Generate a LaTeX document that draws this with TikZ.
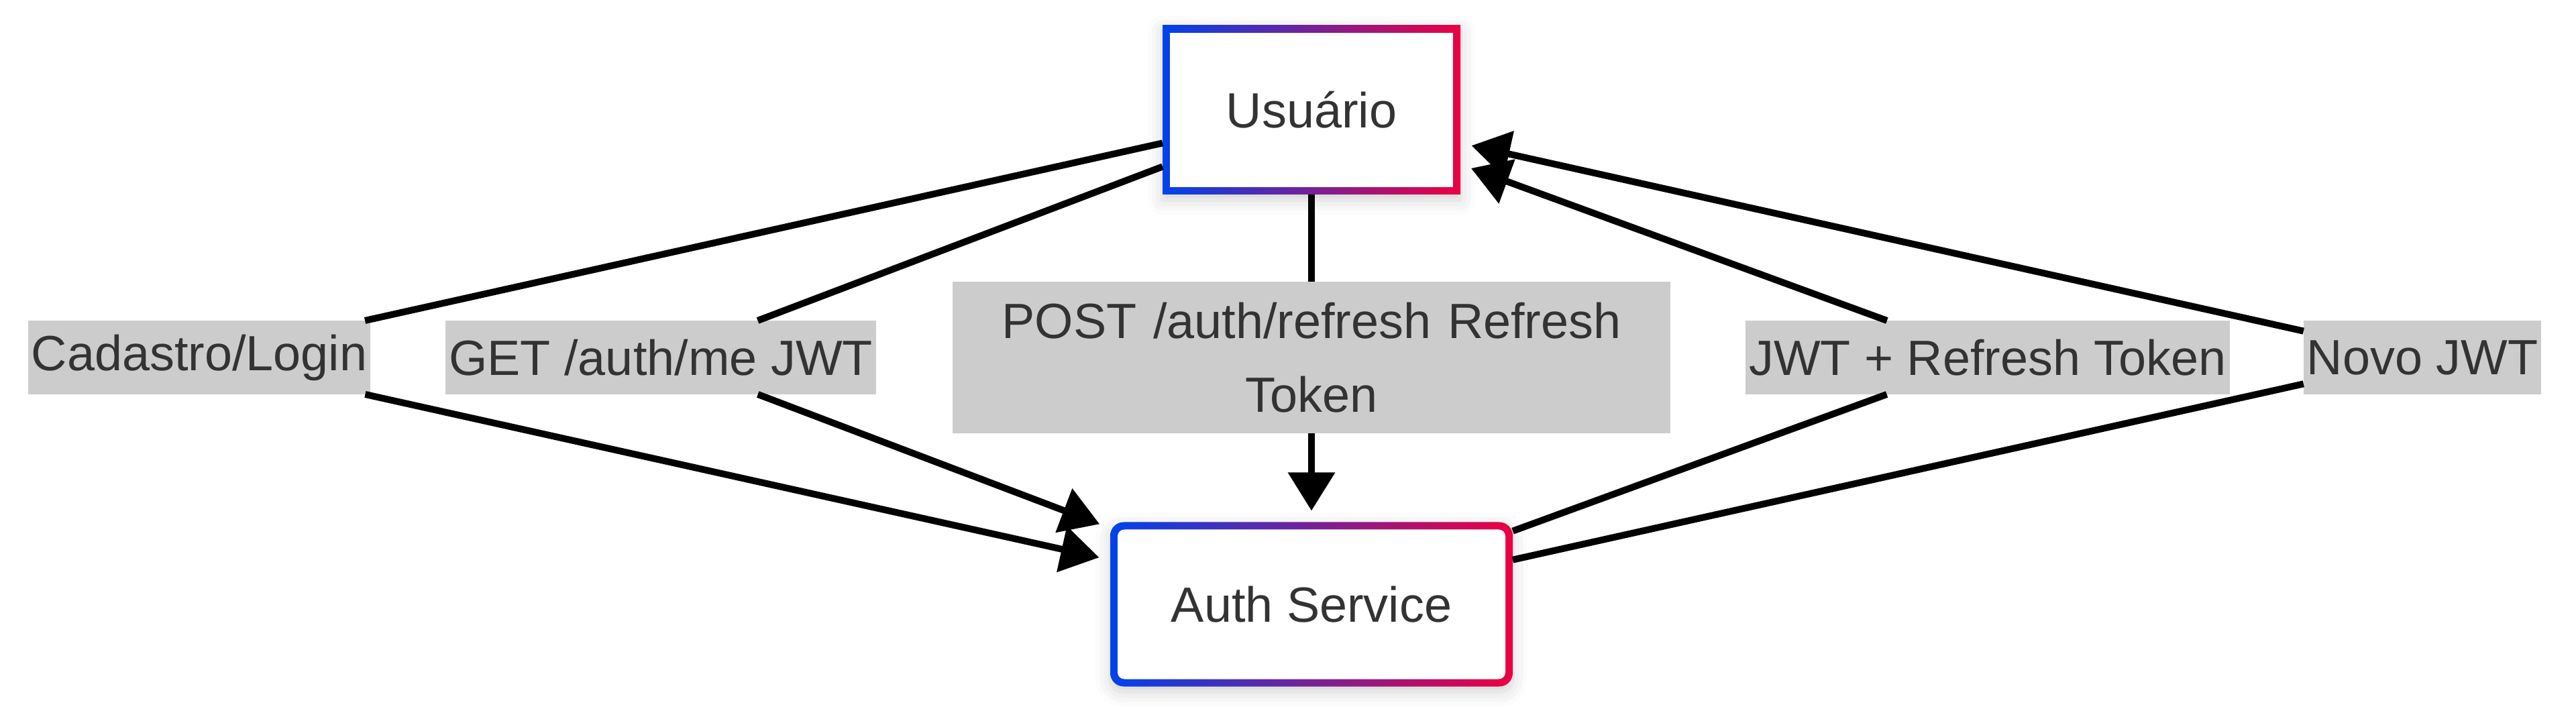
\documentclass[tikz,border=0pt]{standalone}
\usepackage{fontspec}
\setmainfont{Liberation Sans}
\usepackage{xcolor}
\usetikzlibrary{arrows.meta,shadows.blur}

\definecolor{edgeblue}{RGB}{0,66,234}
\definecolor{edgered}{RGB}{236,0,66}
\definecolor{textgray}{HTML}{333333}
\definecolor{labelgray}{HTML}{CCCCCC}

\begin{document}
\begin{tikzpicture}[>={Triangle[length=0.57cm,width=0.68cm]},line width=0.1cm,
                    arrow/.style={->,shorten >=0.17cm},
                    main node/.style={left color=edgeblue,right color=edgered,text=textgray,outer sep=0pt,
                        font=\fontsize{21}{25}\selectfont,
                        blur shadow={shadow xshift=0cm,shadow yshift=-0.08cm,shadow blur radius=0.22cm,shadow opacity=18}},
                    msg node/.style={fill=labelgray,text=textgray,font=\fontsize{21}{31.3}\selectfont,outer sep=0pt,
                        inner xsep=0.05cm,inner ysep=0cm,minimum height=1.1cm}]

    % white inside of the gradient frame
    \tikzset{
        hollow/.style={
            path picture={\fill[white,rounded corners=#1]
                ([shift={(0.11cm,0.11cm)}]path picture bounding box.south west) rectangle
                ([shift={(-0.11cm,-0.11cm)}]path picture bounding box.north east);}
        }
    }

    \useasboundingbox (0,0) rectangle (38.4,10.71);

    \node[main node, hollow=0pt, minimum width=4.44cm, minimum height=2.52cm] (usr) at (19.55,9.07) {Usuário};
    \node[main node, hollow=0.1cm, rounded corners=0.2cm, minimum width=6cm, minimum height=2.45cm] (auth) at (19.55,1.7) {Auth Service};

    \node[msg node] (lcad) at (2.97,5.38) {Cadastro/Login};
    \node[msg node] (lget) at (9.85,5.38) {GET /auth/me JWT};
    \node[msg node, text width=10.6cm, align=center, minimum height=2.26cm] (lpost) at (19.55,5.38) {POST /auth/refresh Refresh\\Token};
    \node[msg node] (ljwt) at (29.63,5.38) {JWT + Refresh Token};
    \node[msg node] (lnovo) at (36.11,5.38) {Novo JWT};

    % requests
    \draw (usr) -- (lcad);
    \draw[arrow] (lcad) -- (auth);
    \draw (usr) -- (lget);
    \draw[arrow] (lget) -- (auth);
    \draw (usr) -- (lpost);
    \draw[arrow] (lpost) -- (auth);
    % responses
    \draw (auth) -- (ljwt);
    \draw[arrow] (ljwt) -- (usr);
    \draw (auth) -- (lnovo);
    \draw[arrow] (lnovo) -- (usr);
\end{tikzpicture}
\end{document}
